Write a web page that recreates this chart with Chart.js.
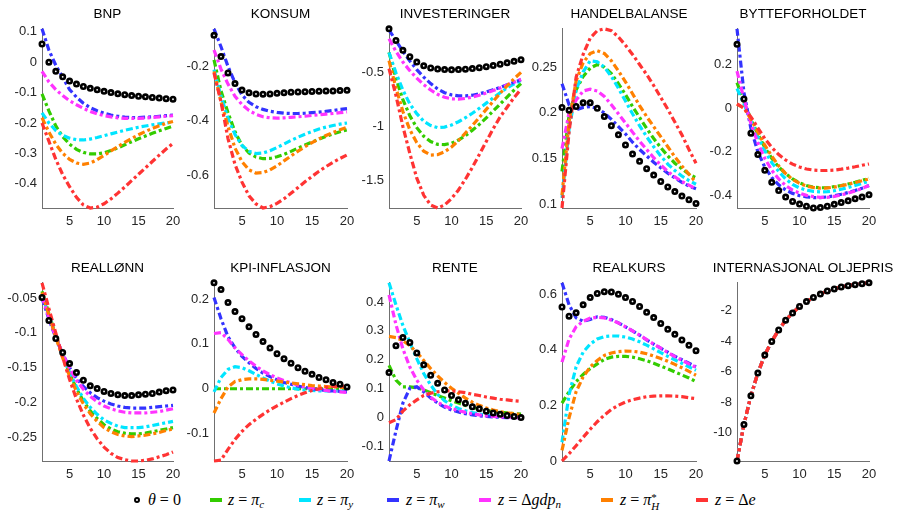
<!DOCTYPE html>
<html>
<head>
<meta charset="utf-8">
<script src="https://cdn.jsdelivr.net/npm/chart.js@4.4.1/dist/chart.umd.min.js"></script>
<style>
  body { margin: 0; background: #fff; width: 904px; height: 518px; position: relative; overflow: hidden; font-family: 'Liberation Sans', Arial, sans-serif; }
  canvas { position: absolute; }
  .title { position: absolute; font-size: 13.5px; color: #000; white-space: nowrap; transform: translateX(-50%); line-height: 16px; }
  .mark { position: absolute; }
  .lab { position: absolute; top: 490px; font-family: 'Liberation Serif', 'DejaVu Serif', serif; font-size: 16px; line-height: 20px; white-space: nowrap; color: #000; }
  .lab sub { font-size: 11px; vertical-align: -3px; }
  .ss { display: inline-block; vertical-align: -5px; line-height: 9px; font-size: 11px; }
</style>
</head>
<body>
<script>
// periods on the x axis
const periods = [1, 2, 3, 4, 5, 6, 7, 8, 9, 10, 11, 12, 13, 14, 15, 16, 17, 18, 19, 20];
const xTicks = [5, 10, 15, 20];

// series: theta=0, z=pi_c, z=pi_y, z=pi_w, z=dgdp_n, z=pi*_H, z=de
const seriesLabels = [
  '<i>θ</i> = 0',
  '<i>z</i> = <i>π</i><sub><i>c</i></sub>',
  '<i>z</i> = <i>π</i><sub><i>y</i></sub>',
  '<i>z</i> = <i>π</i><sub><i>w</i></sub>',
  '<i>z</i> = Δ<i>gdp</i><sub><i>n</i></sub>',
  '<i>z</i> = <i>π</i><span class="ss">*<br><i>H</i></span>',
  '<i>z</i> = Δ<i>e</i>'
];
const seriesColors = ['#000000', '#33cc00', '#00e5ff', '#3333ff', '#ff33ff', '#ff8000', '#ff3333'];

const panelTitles = ['BNP', 'KONSUM', 'INVESTERINGER', 'HANDELBALANSE', 'BYTTEFORHOLDET',
  'REALLØNN', 'KPI-INFLASJON', 'RENTE', 'REALKURS', 'INTERNASJONAL OLJEPRIS'];

// y tick labels per panel
const bnpTicks = [0.1, 0, -0.1, -0.2, -0.3, -0.4];
const konsumTicks = [-0.2, -0.4, -0.6];
const investTicks = [-0.5, -1, -1.5];
const handelTicks = [0.1, 0.15, 0.2, 0.25];
const bytteTicks = [0.2, 0, -0.2, -0.4];
const reallonnTicks = [-0.05, -0.1, -0.15, -0.2, -0.25];
const kpiTicks = [0.2, 0.1, 0, -0.1];
const renteTicks = [0.4, 0.3, 0.2, 0.1, 0, -0.1];
const realkursTicks = [0, 0.2, 0.4, 0.6];
const oljeTicks = [-2, -4, -6, -8, -10];

// rows in series order: theta, pi_c, pi_y, pi_w, dgdp_n, pi*_H, de
const bnp = [
  [0.06, 0.0, -0.03, -0.048, -0.062, -0.072, -0.08, -0.086, -0.091, -0.096, -0.1, -0.104, -0.107, -0.11, -0.112, -0.114, -0.116, -0.118, -0.12, -0.122],
  [-0.104, -0.16, -0.21, -0.245, -0.27, -0.287, -0.297, -0.302, -0.302, -0.298, -0.291, -0.282, -0.272, -0.262, -0.252, -0.243, -0.234, -0.226, -0.218, -0.21],
  [-0.167, -0.2, -0.225, -0.241, -0.25, -0.255, -0.256, -0.253, -0.248, -0.242, -0.236, -0.23, -0.224, -0.219, -0.214, -0.21, -0.206, -0.203, -0.2, -0.197],
  [0.11, 0.04, -0.01, -0.05, -0.09, -0.115, -0.135, -0.15, -0.16, -0.168, -0.174, -0.178, -0.181, -0.182, -0.182, -0.181, -0.18, -0.178, -0.176, -0.174],
  [-0.03, -0.065, -0.09, -0.11, -0.127, -0.14, -0.152, -0.162, -0.17, -0.176, -0.18, -0.183, -0.185, -0.185, -0.185, -0.184, -0.182, -0.18, -0.178, -0.176],
  [-0.183, -0.23, -0.27, -0.3, -0.32, -0.332, -0.336, -0.332, -0.321, -0.307, -0.292, -0.278, -0.264, -0.251, -0.239, -0.228, -0.218, -0.209, -0.201, -0.195],
  [-0.2, -0.26, -0.32, -0.37, -0.41, -0.445, -0.47, -0.48, -0.477, -0.466, -0.45, -0.431, -0.411, -0.39, -0.369, -0.348, -0.327, -0.306, -0.286, -0.267]
];
const konsum = [
  [-0.086, -0.164, -0.224, -0.263, -0.287, -0.297, -0.301, -0.302, -0.301, -0.299, -0.297, -0.295, -0.294, -0.293, -0.292, -0.291, -0.29, -0.29, -0.289, -0.288],
  [-0.176, -0.29, -0.37, -0.44, -0.49, -0.518, -0.533, -0.539, -0.538, -0.532, -0.523, -0.512, -0.5, -0.489, -0.478, -0.467, -0.457, -0.448, -0.44, -0.433],
  [-0.212, -0.31, -0.39, -0.45, -0.49, -0.512, -0.52, -0.518, -0.51, -0.498, -0.485, -0.472, -0.46, -0.449, -0.439, -0.43, -0.423, -0.417, -0.412, -0.408],
  [-0.062, -0.128, -0.2, -0.26, -0.305, -0.332, -0.348, -0.358, -0.365, -0.369, -0.372, -0.373, -0.373, -0.372, -0.37, -0.368, -0.365, -0.362, -0.358, -0.355],
  [-0.14, -0.21, -0.265, -0.31, -0.34, -0.362, -0.376, -0.385, -0.389, -0.39, -0.389, -0.387, -0.385, -0.383, -0.38, -0.378, -0.375, -0.373, -0.37, -0.367],
  [-0.218, -0.33, -0.42, -0.5, -0.55, -0.58, -0.592, -0.59, -0.58, -0.565, -0.547, -0.529, -0.511, -0.495, -0.48, -0.466, -0.454, -0.443, -0.433, -0.424],
  [-0.224, -0.33, -0.465, -0.56, -0.625, -0.675, -0.705, -0.72, -0.715, -0.703, -0.686, -0.666, -0.645, -0.624, -0.604, -0.585, -0.568, -0.552, -0.538, -0.525]
];
const invest = [
  [-0.09, -0.198, -0.29, -0.35, -0.4, -0.435, -0.455, -0.465, -0.47, -0.472, -0.47, -0.466, -0.46, -0.452, -0.443, -0.432, -0.42, -0.407, -0.393, -0.378],
  [-0.31, -0.55, -0.75, -0.9, -1.01, -1.09, -1.14, -1.165, -1.168, -1.155, -1.125, -1.085, -1.035, -0.98, -0.92, -0.855, -0.79, -0.725, -0.66, -0.6],
  [-0.31, -0.5, -0.66, -0.79, -0.88, -0.95, -0.99, -1.01, -1.005, -0.985, -0.955, -0.918, -0.876, -0.83, -0.782, -0.733, -0.685, -0.64, -0.603, -0.575],
  [-0.1, -0.2, -0.3, -0.39, -0.47, -0.54, -0.6, -0.65, -0.685, -0.705, -0.715, -0.715, -0.708, -0.695, -0.678, -0.657, -0.635, -0.612, -0.588, -0.565],
  [-0.183, -0.3, -0.4, -0.48, -0.55, -0.61, -0.66, -0.7, -0.728, -0.742, -0.745, -0.738, -0.725, -0.708, -0.688, -0.665, -0.64, -0.614, -0.588, -0.56],
  [-0.387, -0.64, -0.86, -1.03, -1.15, -1.23, -1.265, -1.262, -1.235, -1.19, -1.13, -1.06, -0.99, -0.915, -0.84, -0.765, -0.69, -0.62, -0.555, -0.495],
  [-0.46, -0.71, -1.0, -1.25, -1.48, -1.64, -1.73, -1.758, -1.73, -1.67, -1.59, -1.49, -1.38, -1.26, -1.14, -1.02, -0.91, -0.82, -0.73, -0.652]
];
const handel = [
  [0.206, 0.203, 0.207, 0.211, 0.211, 0.205, 0.196, 0.186, 0.176, 0.165, 0.155, 0.147, 0.139, 0.132, 0.125, 0.119, 0.114, 0.109, 0.105, 0.101],
  [0.136, 0.197, 0.225, 0.24, 0.249, 0.253, 0.25, 0.243, 0.232, 0.22, 0.207, 0.195, 0.183, 0.172, 0.162, 0.153, 0.145, 0.139, 0.133, 0.129],
  [0.107, 0.182, 0.225, 0.245, 0.257, 0.256, 0.25, 0.24, 0.227, 0.213, 0.199, 0.186, 0.174, 0.163, 0.153, 0.144, 0.137, 0.131, 0.126, 0.122],
  [0.232, 0.209, 0.2035, 0.206, 0.207, 0.205, 0.2, 0.193, 0.185, 0.177, 0.168, 0.16, 0.153, 0.146, 0.14, 0.134, 0.129, 0.124, 0.12, 0.117],
  [0.161, 0.2, 0.214, 0.224, 0.226, 0.224, 0.218, 0.209, 0.199, 0.189, 0.179, 0.169, 0.16, 0.151, 0.143, 0.136, 0.13, 0.125, 0.121, 0.117],
  [0.11, 0.19, 0.235, 0.255, 0.265, 0.268, 0.265, 0.257, 0.246, 0.234, 0.221, 0.208, 0.196, 0.185, 0.174, 0.163, 0.152, 0.142, 0.133, 0.124],
  [0.096, 0.179, 0.239, 0.264, 0.282, 0.29, 0.292, 0.29, 0.283, 0.274, 0.264, 0.253, 0.242, 0.23, 0.217, 0.204, 0.19, 0.176, 0.16, 0.145]
];
const bytte = [
  [0.293, 0.042, -0.115, -0.213, -0.285, -0.34, -0.378, -0.408, -0.428, -0.44, -0.45, -0.458, -0.456, -0.45, -0.441, -0.433, -0.425, -0.416, -0.408, -0.397],
  [0.117, 0.03, -0.05, -0.12, -0.18, -0.23, -0.27, -0.3, -0.325, -0.343, -0.355, -0.362, -0.365, -0.365, -0.36, -0.355, -0.348, -0.34, -0.331, -0.322],
  [0.09, 0.02, -0.06, -0.13, -0.195, -0.25, -0.29, -0.325, -0.35, -0.366, -0.376, -0.382, -0.384, -0.383, -0.379, -0.372, -0.364, -0.355, -0.345, -0.335],
  [0.364, 0.072, -0.093, -0.2, -0.27, -0.318, -0.352, -0.375, -0.391, -0.401, -0.407, -0.41, -0.41, -0.407, -0.402, -0.395, -0.387, -0.378, -0.367, -0.355],
  [0.17, 0.042, -0.07, -0.16, -0.23, -0.285, -0.325, -0.355, -0.376, -0.39, -0.4, -0.406, -0.409, -0.409, -0.405, -0.398, -0.39, -0.38, -0.368, -0.355],
  [0.019, 0.0, -0.05, -0.11, -0.17, -0.22, -0.265, -0.3, -0.327, -0.345, -0.357, -0.364, -0.367, -0.366, -0.362, -0.356, -0.349, -0.341, -0.333, -0.325],
  [0.02, 0.0, -0.04, -0.09, -0.14, -0.18, -0.213, -0.238, -0.257, -0.27, -0.279, -0.284, -0.286, -0.286, -0.284, -0.28, -0.275, -0.269, -0.262, -0.256]
];
const reallonn = [
  [-0.049, -0.082, -0.108, -0.128, -0.144, -0.157, -0.168, -0.176, -0.18, -0.184, -0.187, -0.189, -0.19, -0.19, -0.189, -0.188, -0.187, -0.185, -0.183, -0.182],
  [-0.04, -0.072, -0.104, -0.133, -0.158, -0.18, -0.198, -0.212, -0.223, -0.232, -0.238, -0.242, -0.244, -0.245, -0.245, -0.244, -0.242, -0.24, -0.238, -0.236],
  [-0.045, -0.075, -0.105, -0.133, -0.157, -0.177, -0.194, -0.207, -0.217, -0.225, -0.23, -0.234, -0.236, -0.236, -0.236, -0.235, -0.233, -0.231, -0.229, -0.227],
  [-0.05, -0.08, -0.107, -0.13, -0.15, -0.165, -0.177, -0.186, -0.193, -0.198, -0.202, -0.205, -0.207, -0.208, -0.208, -0.208, -0.207, -0.206, -0.205, -0.204],
  [-0.048, -0.078, -0.106, -0.13, -0.151, -0.168, -0.181, -0.191, -0.199, -0.205, -0.209, -0.212, -0.214, -0.215, -0.215, -0.215, -0.214, -0.213, -0.211, -0.209],
  [-0.042, -0.074, -0.106, -0.136, -0.162, -0.184, -0.202, -0.216, -0.227, -0.236, -0.242, -0.246, -0.248, -0.249, -0.248, -0.247, -0.245, -0.243, -0.24, -0.238],
  [-0.028, -0.065, -0.1, -0.135, -0.167, -0.195, -0.218, -0.237, -0.252, -0.264, -0.273, -0.279, -0.282, -0.284, -0.284, -0.283, -0.281, -0.278, -0.275, -0.271]
];
const kpi = [
  [0.236, 0.221, 0.192, 0.172, 0.156, 0.138, 0.121, 0.105, 0.091, 0.078, 0.067, 0.057, 0.047, 0.039, 0.032, 0.025, 0.02, 0.014, 0.01, 0.004],
  [0, 0, 0, 0, 0, 0, 0, 0, 0, 0, 0, 0, 0, 0, 0, 0, 0, 0, 0, 0],
  [-0.007, 0.025, 0.043, 0.049, 0.047, 0.04, 0.032, 0.024, 0.017, 0.011, 0.006, 0.002, -0.001, -0.003, -0.004, -0.005, -0.005, -0.005, -0.005, -0.005],
  [0.203, 0.156, 0.116, 0.091, 0.072, 0.058, 0.045, 0.035, 0.027, 0.02, 0.014, 0.01, 0.006, 0.003, 0.0, -0.002, -0.004, -0.005, -0.006, -0.007],
  [0.123, 0.125, 0.11, 0.091, 0.076, 0.062, 0.05, 0.04, 0.031, 0.024, 0.018, 0.013, 0.008, 0.004, 0.001, -0.002, -0.004, -0.006, -0.007, -0.008],
  [-0.054, -0.022, 0.004, 0.016, 0.02, 0.022, 0.022, 0.021, 0.019, 0.017, 0.015, 0.013, 0.011, 0.009, 0.007, 0.006, 0.005, 0.004, 0.003, 0.002],
  [-0.161, -0.159, -0.135, -0.113, -0.095, -0.08, -0.068, -0.057, -0.047, -0.038, -0.03, -0.022, -0.015, -0.009, -0.004, 0.0, 0.003, 0.005, 0.006, 0.006]
];
const rente = [
  [0.156, 0.249, 0.277, 0.26, 0.224, 0.183, 0.147, 0.119, 0.096, 0.077, 0.062, 0.05, 0.038, 0.031, 0.023, 0.017, 0.012, 0.008, 0.005, 0.001],
  [0.181, 0.13, 0.107, 0.107, 0.104, 0.096, 0.087, 0.077, 0.068, 0.059, 0.051, 0.043, 0.036, 0.031, 0.026, 0.022, 0.019, 0.017, 0.015, 0.013],
  [0.466, 0.39, 0.319, 0.26, 0.204, 0.153, 0.113, 0.081, 0.059, 0.043, 0.032, 0.024, 0.018, 0.013, 0.01, 0.007, 0.005, 0.004, 0.003, 0.002],
  [-0.149, -0.045, 0.051, 0.102, 0.107, 0.09, 0.068, 0.051, 0.037, 0.027, 0.02, 0.014, 0.01, 0.007, 0.005, 0.003, 0.002, 0.001, 0.0, 0.0],
  [0.424, 0.322, 0.238, 0.175, 0.13, 0.096, 0.071, 0.054, 0.041, 0.032, 0.025, 0.019, 0.014, 0.01, 0.007, 0.005, 0.003, 0.002, 0.001, 0.0],
  [0.281, 0.277, 0.266, 0.249, 0.226, 0.198, 0.17, 0.145, 0.122, 0.102, 0.085, 0.068, 0.054, 0.043, 0.034, 0.027, 0.021, 0.017, 0.014, 0.011],
  [-0.017, -0.006, 0.023, 0.045, 0.062, 0.077, 0.085, 0.09, 0.093, 0.093, 0.09, 0.087, 0.081, 0.077, 0.072, 0.068, 0.064, 0.062, 0.059, 0.057]
];
const realkurs = [
  [0.553, 0.52, 0.532, 0.561, 0.587, 0.602, 0.608, 0.607, 0.599, 0.587, 0.573, 0.555, 0.534, 0.515, 0.494, 0.473, 0.455, 0.435, 0.416, 0.396],
  [0.208, 0.249, 0.285, 0.311, 0.332, 0.349, 0.365, 0.373, 0.376, 0.376, 0.373, 0.367, 0.36, 0.351, 0.341, 0.331, 0.32, 0.309, 0.298, 0.285],
  [0.067, 0.238, 0.338, 0.391, 0.42, 0.438, 0.447, 0.449, 0.449, 0.445, 0.438, 0.428, 0.416, 0.403, 0.389, 0.376, 0.363, 0.351, 0.338, 0.326],
  [0.64, 0.561, 0.514, 0.502, 0.508, 0.518, 0.516, 0.508, 0.496, 0.482, 0.467, 0.452, 0.435, 0.42, 0.405, 0.391, 0.376, 0.364, 0.351, 0.338],
  [0.355, 0.438, 0.482, 0.502, 0.513, 0.516, 0.514, 0.506, 0.496, 0.482, 0.467, 0.452, 0.436, 0.42, 0.405, 0.39, 0.375, 0.362, 0.349, 0.336],
  [0.038, 0.155, 0.249, 0.302, 0.338, 0.361, 0.379, 0.388, 0.393, 0.395, 0.394, 0.391, 0.385, 0.377, 0.368, 0.358, 0.347, 0.335, 0.322, 0.308],
  [0.0, 0.026, 0.055, 0.085, 0.114, 0.141, 0.165, 0.185, 0.2, 0.212, 0.22, 0.226, 0.231, 0.233, 0.234, 0.234, 0.233, 0.231, 0.227, 0.224]
];
// oil price path is the same under every rule
const oljePath = [-11.86, -9.47, -7.59, -6.1, -4.92, -4.03, -3.28, -2.64, -2.17, -1.74, -1.42, -1.15, -0.93, -0.72, -0.59, -0.46, -0.38, -0.31, -0.25, -0.19];
const olje = [oljePath, oljePath, oljePath, oljePath, oljePath, oljePath, oljePath];

const panelRows = [bnp, konsum, invest, handel, bytte, reallonn, kpi, rente, realkurs, olje];
const panelTicks = [bnpTicks, konsumTicks, investTicks, handelTicks, bytteTicks,
  reallonnTicks, kpiTicks, renteTicks, realkursTicks, oljeTicks];

// plot box placement
const colLeft = [42, 214, 389, 562, 737];
const colRight = [173, 347, 521, 696, 869];
const rowTop = [24, 278];
const rowBottom = [208, 461];
const AXW = 46, AXH = 26, PADT = 8, PADR = 14;
const tickFont = { family: "'Liberation Sans', Arial, sans-serif", size: 13 };

panelRows.forEach((rows, i) => {
  const col = i % 5, row = Math.floor(i / 5);
  const L = colLeft[col], R = colRight[col], T = rowTop[row], B = rowBottom[row];
  const cv = document.createElement('canvas');
  cv.width = (R - L) + AXW + PADR;
  cv.height = (B - T) + PADT + AXH;
  cv.style.left = (L - AXW) + 'px';
  cv.style.top = (T - PADT) + 'px';
  document.body.appendChild(cv);

  const all = rows.flat();
  const ymin = Math.min(...all), ymax = Math.max(...all);
  const ticks = panelTicks[i];

  const datasets = rows.map((vals, s) => {
    const pts = vals.map((v, k) => ({ x: periods[k], y: v }));
    if (s === 0) {
      return {
        data: pts, showLine: false, order: 0, clip: false,
        pointRadius: 2.2, pointBorderWidth: 2.6,
        pointBackgroundColor: '#ffffff', pointBorderColor: '#000000'
      };
    }
    return {
      data: pts, order: 7 - s, clip: false,
      borderColor: seriesColors[s], borderWidth: 3.2,
      borderDash: [7, 3, 3, 3], borderCapStyle: 'butt',
      pointRadius: 0, tension: 0, fill: false
    };
  });

  new Chart(cv, {
    type: 'line',
    data: { datasets },
    options: {
      responsive: false,
      animation: false,
      events: [],
      layout: { padding: { top: PADT, right: PADR, left: 0, bottom: 0 } },
      plugins: { legend: { display: false }, tooltip: { enabled: false }, title: { display: false } },
      scales: {
        x: {
          type: 'linear', min: 1, max: 20,
          afterBuildTicks: (s) => { s.ticks = xTicks.map(v => ({ value: v })); },
          afterFit: (s) => { s.height = AXH; },
          grid: { display: false, drawTicks: false },
          border: { display: true, color: '#707070', width: 1 },
          ticks: { font: tickFont, color: '#262626', padding: 6, maxRotation: 0 }
        },
        y: {
          type: 'linear', min: ymin, max: ymax,
          afterBuildTicks: (s) => { s.ticks = ticks.map(v => ({ value: v })); },
          afterFit: (s) => { s.width = AXW; },
          grid: { display: false, drawTicks: false },
          border: { display: true, color: '#707070', width: 1 },
          ticks: { font: tickFont, color: '#262626', padding: 5, callback: (v) => String(v) }
        }
      }
    }
  });

  const t = document.createElement('div');
  t.className = 'title';
  t.textContent = panelTitles[i];
  t.style.left = ((L + R) / 2) + 'px';
  t.style.top = (row === 0 ? 6 : 260) + 'px';
  document.body.appendChild(t);
});

// legend
const legMarkX = [137, 210, 299, 387, 479, 601, 696];
const legTextX = [148, 228, 317, 406, 498, 620, 715];
seriesLabels.forEach((lab, s) => {
  const m = document.createElement('div');
  m.className = 'mark';
  if (s === 0) {
    Object.assign(m.style, { left: (legMarkX[s] - 3.5) + 'px', top: '496.5px', width: '2px', height: '2px',
      border: '2.5px solid #000', borderRadius: '50%', background: '#fff' });
  } else {
    Object.assign(m.style, { left: legMarkX[s] + 'px', top: '498px', width: '12px', height: '4px', background: seriesColors[s] });
  }
  document.body.appendChild(m);
  const d = document.createElement('div');
  d.className = 'lab';
  d.innerHTML = lab;
  d.style.left = legTextX[s] + 'px';
  document.body.appendChild(d);
});
</script>
</body>
</html>
